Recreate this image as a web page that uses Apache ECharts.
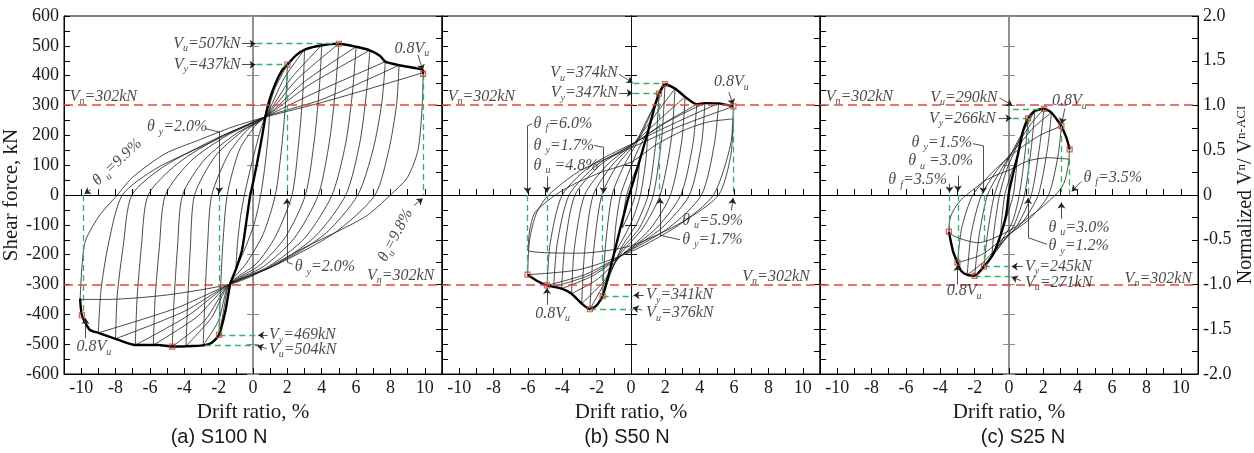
<!DOCTYPE html>
<html>
<head>
<meta charset="utf-8">
<script src="https://cdn.jsdelivr.net/npm/echarts@6/dist/echarts.min.js"></script>
<style>
  html, body { margin: 0; padding: 0; background: #fff; }
  #chart { width: 1254px; height: 453px; }
</style>
</head>
<body>
<div id="chart"></div>
<script>
// captions under the three panels
const panelNames = ['(a) S100 N', '(b) S50 N', '(c) S25 N'];
const nominalShear = 302; // V_n (ACI), kN

// ---- S100 N : envelope, loops, key points ----
const s100Envelope = [[-10.06,-347],[-9.96,-403],[-9.5,-452],[-9.0,-462],[-8.0,-482],[-6.85,-503],[-5.5,-503],[-4.7,-508],[-3.5,-506],[-2.8,-503],[-2.4,-495],[-1.98,-469],[-1.6,-387],[-1.32,-297],[-1.0,-250],[-0.64,-185],[-0.35,-74],[-0.16,0],[0.0,40],[0.23,105],[0.52,194],[0.72,261],[0.95,317],[1.3,373],[1.69,418],[2.0,437],[2.5,468],[3.05,488],[4.0,502],[5.0,507],[6.0,497],[6.8,485],[7.4,466],[7.7,447],[8.5,435],[9.5,425],[9.9,418],[9.9,406]];
const s100Loops = [
  [[1.0,320],[0.9,210],[0.7,100],[0.45,0],[0.1,-90],[-0.4,-170],[-1.0,-250],[-0.9,-160],[-0.72,-70],[-0.5,0],[-0.1,100],[0.4,210],[1.0,320]],
  [[2.0,437],[1.9,310],[1.65,150],[1.3,0],[0.6,-130],[-0.4,-230],[-1.4,-300],[-1.75,-400],[-1.98,-469],[-1.9,-330],[-1.75,-160],[-1.5,0],[-0.8,150],[0.1,230],[0.7,265],[1.3,360],[2.0,437]],
  [[3.0,488],[2.9,340],[2.65,170],[2.27,0],[1.3,-140],[0.2,-230],[-1.4,-300],[-2.0,-420],[-2.9,-504],[-2.8,-350],[-2.65,-175],[-2.4,0],[-1.4,140],[-0.3,220],[0.7,262],[1.8,390],[3.0,488]],
  [[4.0,502],[3.85,350],[3.55,175],[3.05,0],[1.9,-140],[0.4,-235],[-1.4,-300],[-2.4,-410],[-3.9,-506],[-3.8,-355],[-3.65,-180],[-3.4,0],[-2.2,130],[-0.6,215],[0.7,262],[2.2,390],[4.0,502]],
  [[5.0,507],[4.8,355],[4.45,180],[3.8,0],[2.4,-145],[0.6,-240],[-1.4,-300],[-2.8,-420],[-4.7,-508],[-4.6,-360],[-4.4,-180],[-4.1,0],[-2.8,120],[-1.0,205],[0.7,262],[2.6,390],[5.0,507]],
  [[6.0,497],[5.8,350],[5.4,175],[4.6,0],[3.0,-145],[0.9,-240],[-1.4,-300],[-3.3,-410],[-5.8,-503],[-5.7,-350],[-5.45,-175],[-5.1,0],[-3.6,115],[-1.5,200],[0.7,262],[3.0,380],[6.0,497]],
  [[6.8,485],[6.6,340],[6.2,170],[5.4,0],[3.6,-140],[1.1,-240],[-1.4,-300],[-3.8,-405],[-6.85,-503],[-6.75,-350],[-6.5,-175],[-6.1,0],[-4.4,105],[-1.9,195],[0.7,262],[3.3,370],[6.8,485]],
  [[7.7,447],[7.5,310],[7.0,155],[6.1,0],[4.2,-130],[1.3,-235],[-1.4,-300],[-4.0,-390],[-8.0,-482],[-7.9,-335],[-7.55,-170],[-7.05,0],[-5.2,95],[-2.3,185],[0.7,262],[3.5,340],[7.7,447]],
  [[8.5,435],[8.35,300],[7.9,150],[7.1,0],[4.8,-125],[1.5,-230],[-1.4,-300],[-4.5,-380],[-9.0,-462],[-8.85,-320],[-8.4,-160],[-7.6,0],[-5.6,90],[-2.5,175],[0.7,262],[4.0,320],[8.5,435]],
  [[9.9,410],[9.85,300],[9.6,150],[9.0,60],[8.0,0],[6.5,-74],[2.7,-185],[0.0,-270],[-1.4,-300],[-5.0,-335],[-8.5,-350],[-10.06,-350],[-9.8,-163],[-9.0,-74],[-7.9,0],[-7.0,60],[-5.1,139],[-3.2,183],[-1.2,228],[0.7,261],[4.0,310],[7.0,360],[9.9,410]]
];
const s100Marks = [[2.0,437],[5.0,507],[9.9,406],[-1.98,-469],[-4.7,-508],[-9.96,-403]];
const s100Guides = [[0.2,507,5.0,507],[0.2,437,2.0,437],[2.0,437,2.0,0],[9.9,406,9.9,0],[-1.96,0,-1.96,-469],[-9.86,0,-9.86,-400],[-1.96,-469,0.3,-469],[-2.8,-504,0.3,-504]];
const s100Arrows = [[-0.65,507,0.15,507],[-0.65,437,0.15,437],[9.6,470,9.88,418],[-1.96,211,-1.96,6],[-9.45,18,-9.8,4],[1.98,-225,1.98,-12],[9.36,-35,9.88,-12],[0.85,-470,0.3,-470],[0.8,-515,0.25,-505],[-9.75,-480,-9.75,-412]];
const s100Leaders = [[-2.75,222,-1.96,211],[2.3,-232,1.98,-225]];
const s100Notes = [
  [-0.7,507,'{i|V}{s|u}{i|=507kN}','r'],
  [-0.7,437,'{i|V}{s|y}{i|=437kN}','r'],
  [-10.7,330,'{i|V}{s|n}{i|=302kN}','l'],
  [8.2,490,'{i|0.8V}{s|u}','l'],
  [-6.2,228,'{i|θ }{s|y}{i|=2.0%}','l'],
  [-7.9,110,'{i|θ }{s|u}{i|=9.9%}','c',43],
  [2.4,-241,'{i|θ }{s|y}{i|=2.0%}','l'],
  [6.6,-270,'{i|V}{s|n}{i|=302kN}','l'],
  [8.3,-135,'{i|θ}{s|u}{i|=9.8%}','c',62],
  [0.9,-470,'{i|V}{s|y}{i|=469kN}','l'],
  [0.9,-518,'{i|V}{s|u}{i|=504kN}','l'],
  [-10.3,-510,'{i|0.8V}{s|u}','l']
];

// ---- S50 N ----
const s50Envelope = [[-6.02,-267],[-5.4,-290],[-4.89,-303],[-4.04,-314],[-3.46,-331],[-2.87,-364],[-2.39,-383],[-2.0,-370],[-1.65,-339],[-1.2,-245],[-0.7,-130],[-0.25,-29],[0.0,20],[0.5,115],[1.0,215],[1.4,300],[1.63,340],[1.98,372],[2.56,357],[3.15,329],[3.83,304],[4.3,308],[5.1,307],[5.96,297]];
const s50Loops = [
  [[0.5,110],[0.4,50],[0.25,0],[-0.1,-60],[-0.5,-110],[-0.4,-50],[-0.25,0],[0.1,60],[0.5,110]],
  [[1.0,215],[0.85,110],[0.55,0],[0.1,-80],[-0.4,-140],[-1.0,-200],[-0.9,-110],[-0.6,0],[-0.1,80],[0.4,150],[1.0,215]],
  [[1.63,340],[1.45,180],[1.0,0],[0.3,-100],[-0.5,-170],[-1.1,-250],[-1.65,-339],[-1.5,-180],[-1.1,0],[-0.4,100],[0.3,170],[0.9,240],[1.63,340]],
  [[1.98,372],[1.8,200],[1.3,0],[0.5,-110],[-0.5,-180],[-1.4,-280],[-2.39,-383],[-2.2,-200],[-1.7,0],[-0.8,100],[0.2,170],[1.0,260],[1.98,372]],
  [[2.56,357],[2.35,190],[1.7,0],[0.7,-110],[-0.5,-190],[-1.6,-290],[-2.87,-364],[-2.7,-190],[-2.2,0],[-1.1,100],[0.2,175],[1.3,260],[2.56,357]],
  [[3.15,329],[2.95,180],[2.3,0],[1.1,-115],[-0.5,-200],[-1.9,-280],[-3.46,-331],[-3.3,-180],[-2.7,0],[-1.4,100],[0.2,175],[1.6,250],[3.15,329]],
  [[3.83,304],[3.6,170],[2.9,0],[1.5,-110],[-0.5,-200],[-2.2,-270],[-4.04,-314],[-3.85,-170],[-3.26,0],[-1.8,100],[0.1,170],[1.9,240],[3.83,304]],
  [[4.3,308],[4.1,170],[3.4,0],[1.8,-110],[-0.5,-200],[-2.4,-268],[-4.5,-308],[-4.3,-165],[-3.6,0],[-2.0,100],[0.1,170],[2.1,245],[4.3,308]],
  [[5.1,307],[4.85,170],[4.1,0],[2.2,-110],[-0.5,-200],[-2.6,-265],[-4.89,-303],[-4.7,-160],[-4.0,0],[-2.3,100],[0.0,170],[2.5,240],[5.1,307]],
  [[5.96,297],[5.8,170],[4.8,0],[2.8,-100],[0.0,-190],[-3.0,-250],[-6.02,-267],[-5.9,-150],[-5.5,-60],[-4.8,0],[-3.0,80],[-0.3,150],[2.8,230],[5.96,297]],
  [[5.96,255],[5.8,130],[5.1,0],[3.0,-90],[0.0,-170],[-3.0,-195],[-6.0,-185],[-5.9,-120],[-5.6,-60],[-4.4,0],[-3.26,38],[-1.7,77],[0.0,110],[1.5,170],[3.0,215],[4.5,245],[5.96,255]]
];
const s50Marks = [[1.63,340],[1.98,372],[5.96,297],[-1.65,-339],[-2.39,-383],[-4.89,-303],[-6.02,-267]];
const s50Guides = [[0.14,373,1.98,373],[0.14,340,1.63,340],[1.63,340,1.63,0],[5.96,297,5.96,0],[-6.02,0,-6.02,-267],[-4.89,0,-4.89,-303],[-1.65,0,-1.65,-339],[-1.65,-339,0.14,-339],[-2.39,-383,0.14,-383]];
const s50Arrows = [[-0.7,405,0.1,376],[-0.7,342,0.1,342],[5.7,345,5.94,302],[-6.02,232,-6.02,6],[-1.6,160,-1.6,6],[-4.9,62,-4.9,8],[5.85,-52,5.94,-10],[1.69,-135,1.69,-10],[0.75,-336,0.15,-336],[0.65,-386,0.1,-378],[-4.89,-368,-4.89,-312]];
const s50Leaders = [[-5.75,239,-6.02,232],[-2.15,166,-1.6,160],[2.85,-150,1.69,-135]];
const s50Notes = [
  [-0.75,409,'{i|V}{s|u}{i|=374kN}','r'],
  [-0.75,342,'{i|V}{s|y}{i|=347kN}','r'],
  [4.8,379,'{i|0.8V}{s|u}','l'],
  [-10.7,330,'{i|V}{s|n}{i|=302kN}','l'],
  [-5.7,239,'{i|θ }{s|f}{i|=6.0%}','l'],
  [-5.7,166,'{i|θ }{s|y}{i|=1.7%}','l'],
  [-5.7,99,'{i|θ }{s|u}{i| =4.8%}','l'],
  [2.95,-85,'{i|θ }{s|u}{i|=5.9%}','l'],
  [2.95,-150,'{i|θ }{s|y}{i|=1.7%}','l'],
  [6.45,-273,'{i|V}{s|n}{i|=302kN}','l'],
  [0.85,-336,'{i|V}{s|y}{i|=341kN}','l'],
  [0.85,-396,'{i|V}{s|u}{i|=376kN}','l'],
  [-5.6,-398,'{i|0.8V}{s|u}','l']
];

// ---- S25 N ----
const s25Envelope = [[-3.5,-123],[-3.26,-188],[-3.0,-227],[-2.78,-255],[-2.43,-268],[-2.0,-271],[-1.46,-240],[-0.93,-199],[-0.54,-143],[-0.16,-65],[0.0,10],[0.23,69],[0.52,136],[0.82,215],[1.11,257],[1.5,282],[2.04,289],[2.47,276],[2.85,248],[3.05,231],[3.34,192],[3.53,153]];
const s25Loops = [
  [[0.5,130],[0.4,70],[0.25,0],[0.0,-50],[-0.5,-135],[-0.4,-70],[-0.25,0],[0.0,50],[0.5,130]],
  [[1.11,257],[0.95,150],[0.6,0],[0.2,-90],[-0.4,-150],[-1.0,-205],[-0.85,-110],[-0.55,0],[-0.1,90],[0.5,170],[1.11,257]],
  [[1.5,282],[1.3,160],[0.9,0],[0.3,-100],[-0.5,-170],[-1.46,-240],[-1.25,-130],[-0.85,0],[-0.2,100],[0.6,190],[1.5,282]],
  [[2.04,289],[1.8,170],[1.3,0],[0.5,-100],[-0.4,-160],[-1.2,-220],[-2.0,-271],[-1.75,-140],[-1.25,0],[-0.4,90],[0.6,180],[1.3,240],[2.04,289]],
  [[2.47,276],[2.25,160],[1.7,0],[0.8,-90],[-0.3,-150],[-1.4,-220],[-2.43,-268],[-2.2,-130],[-1.6,0],[-0.6,90],[0.6,170],[1.5,230],[2.47,276]],
  [[3.05,231],[2.85,130],[2.3,0],[1.2,-80],[-0.2,-140],[-1.6,-200],[-3.0,-227],[-2.75,-110],[-2.1,0],[-0.9,80],[0.5,150],[1.8,200],[3.05,231]],
  [[3.53,153],[3.45,100],[3.2,40],[2.7,0],[1.5,-60],[0.0,-120],[-1.8,-160],[-3.5,-123],[-3.46,-87],[-3.26,-54],[-2.78,-15],[-2.19,13],[-1.42,47],[-0.64,69],[0.0,83],[1.1,114],[2.27,125],[3.53,120]]
];
const s25Marks = [[1.11,257],[2.04,289],[3.05,231],[3.53,153],[-1.46,-240],[-2.0,-271],[-3.0,-227],[-3.5,-123]];
const s25Guides = [[0.23,287,2.04,287],[0.23,257,1.11,257],[1.11,257,1.11,0],[3.05,231,3.05,0],[3.53,153,3.53,0],[-3.46,0,-3.46,-123],[-2.97,0,-2.97,-227],[-1.46,0,-1.46,-240],[-1.46,-240,0.2,-240],[-2.0,-271,0.2,-271]];
const s25Arrows = [[-0.55,325,0.2,300],[-0.6,257,0.15,257],[3.25,290,3.06,238],[-1.5,165,-1.5,6],[-2.97,65,-2.97,12],[-3.46,38,-3.46,8],[4.2,45,3.65,12],[3.05,-80,3.05,-25],[1.11,-143,1.11,-10],[0.8,-240,0.15,-240],[0.7,-287,0.15,-275],[-3.0,-300,-3.0,-235]];
const s25Leaders = [[-2.1,172,-1.5,165],[2.2,-165,1.11,-143]];
const s25Notes = [
  [-0.64,326,'{i|V}{s|u}{i|=290kN}','r'],
  [-0.74,256,'{i|V}{s|y}{i|=266kN}','r'],
  [2.47,315,'{i|0.8V}{s|u}','l'],
  [-10.7,330,'{i|V}{s|n}{i|=302kN}','l'],
  [-5.7,175,'{i|θ }{s|y}{i|=1.5%}','l'],
  [-5.9,114,'{i|θ }{s|u}{i| =3.0%}','l'],
  [-7.05,50,'{i|θ }{s|f}{i|=3.5%}','l'],
  [4.3,58,'{i|θ }{s|f}{i|=3.5%}','l'],
  [2.27,-110,'{i|θ }{s|u}{i|=3.0%}','l'],
  [2.27,-171,'{i|θ }{s|y}{i|=1.2%}','l'],
  [0.9,-240,'{i|V}{s|y}{i|=245kN}','l'],
  [0.9,-294,'{i|V}{s|u}{i|=271kN}','l'],
  [-3.65,-322,'{i|0.8V}{s|u}','l'],
  [6.7,-280,'{i|V}{s|n}{i|=302kN}','l']
];

const serif = '"Liberation Serif", "Times New Roman", serif';
const ink = '#1a1a1a';

const panels = [
  {env: s100Envelope, loops: s100Loops, marks: s100Marks, guides: s100Guides, arrows: s100Arrows, leaders: s100Leaders, notes: s100Notes, left: 64, mid: 219, axisColor: '#8c8c8c', axisWidth: 1.6},
  {env: s50Envelope, loops: s50Loops, marks: s50Marks, guides: s50Guides, arrows: s50Arrows, leaders: s50Leaders, notes: s50Notes, left: 442, mid: 627, axisColor: '#111', axisWidth: 1},
  {env: s25Envelope, loops: s25Loops, marks: s25Marks, guides: s25Guides, arrows: s25Arrows, leaders: s25Leaders, notes: s25Notes, left: 820, mid: 1023, axisColor: '#8c8c8c', axisWidth: 1.6}
];

function noteRich(size) {
  return {
    i: {fontFamily: serif, fontStyle: 'italic', fontSize: size, lineHeight: size, verticalAlign: 'top', color: ink},
    s: {fontFamily: serif, fontStyle: 'italic', fontSize: 10, lineHeight: 10, padding: [8, 0, 0, 0], verticalAlign: 'top', color: ink}
  };
}

function segs(list) {
  return list.map(s => [{coord: [s[0], s[1]]}, {coord: [s[2], s[3]]}]);
}

const option = {
  animation: false,
  backgroundColor: '#fff',
  grid: [], xAxis: [], yAxis: [], series: [], graphic: []
};

panels.forEach(function (p, k) {
  const xi = 2 * k, yi = 4 * k;
  option.grid.push({left: p.left, top: 16, width: 378, height: 358, show: true, borderColor: '#000', borderWidth: 1, outerBoundsMode: 'none'});

  // bottom drift axis + the one through zero force
  option.xAxis.push({
    gridIndex: k, type: 'value', min: -11, max: 11, interval: 1, position: 'bottom',
    axisLine: {onZero: false, lineStyle: {color: '#000', width: 1}},
    axisTick: {inside: true, length: 6, lineStyle: {color: '#000'}},
    axisLabel: {formatter: v => (Math.round(v) % 2 === 0 ? String(Math.round(v)) : ''), fontFamily: serif, fontSize: 18, color: ink, margin: 5},
    splitLine: {show: false},
    name: 'Drift ratio, %', nameLocation: 'middle', nameGap: 24,
    nameTextStyle: {fontFamily: serif, fontSize: 21, color: ink}
  });
  option.xAxis.push({
    gridIndex: k, type: 'value', min: -11, max: 11, interval: 1, position: 'bottom',
    axisLine: {onZero: true, onZeroAxisIndex: yi, lineStyle: {color: '#000', width: 1}},
    axisTick: {inside: true, length: 6, lineStyle: {color: '#000'}},
    axisLabel: {show: false}, splitLine: {show: false}
  });

  const leftAxis = {
    gridIndex: k, type: 'value', min: -600, max: 600, interval: 50, position: 'left',
    axisLine: {onZero: false, lineStyle: {color: '#000'}},
    axisTick: {inside: true, length: 6, lineStyle: {color: '#000'}},
    axisLabel: {show: k === 0, formatter: v => (v % 100 === 0 ? String(v) : ''), fontFamily: serif, fontSize: 18, color: ink, margin: 5},
    splitLine: {show: false}
  };
  if (k === 0) {
    leftAxis.name = 'Shear force, kN';
    leftAxis.nameLocation = 'middle';
    leftAxis.nameGap = 40;
    leftAxis.nameRotate = 90;
    leftAxis.nameTextStyle = {fontFamily: serif, fontSize: 21, color: ink};
  }
  const rightAxis = {
    gridIndex: k, type: 'value', min: -2, max: 2, interval: 0.25, position: 'right',
    axisLine: {onZero: false, lineStyle: {color: '#000'}},
    axisTick: {inside: true, length: 6, lineStyle: {color: '#000'}},
    axisLabel: {show: k === 2, formatter: v => (Math.abs(v * 2 - Math.round(v * 2)) < 1e-9 ? (v === 0 ? '0' : v.toFixed(1)) : ''), fontFamily: serif, fontSize: 18, color: ink, margin: 5},
    splitLine: {show: false}
  };
  if (k === 2) {
    rightAxis.name = '{m|Normalized V}{s|n}{m|/ V}{s|n-ACI}';
    rightAxis.nameLocation = 'middle';
    rightAxis.nameGap = 31;
    rightAxis.nameRotate = 90;
    rightAxis.nameTextStyle = {
      fontFamily: serif, fontSize: 20, color: ink,
      rich: {
        m: {fontFamily: serif, fontSize: 20, lineHeight: 20, verticalAlign: 'top', color: ink},
        s: {fontFamily: serif, fontSize: 13, lineHeight: 13, verticalAlign: 'top', color: ink}
      }
    };
  }
  option.yAxis.push(leftAxis, rightAxis);
  [true, false].forEach(function (inside) {
    option.yAxis.push({
      gridIndex: k, type: 'value', min: -600, max: 600, interval: 100, position: 'left',
      axisLine: {onZero: true, onZeroAxisIndex: xi, lineStyle: {color: p.axisColor, width: p.axisWidth}},
      axisTick: {inside: inside, length: 6, lineStyle: {color: p.axisColor, width: 1}},
      axisLabel: {show: false}, splitLine: {show: false}
    });
  });

  p.loops.forEach(function (loop) {
    option.series.push({
      type: 'line', xAxisIndex: xi, yAxisIndex: yi, data: loop, symbol: 'none', showSymbol: false,
      smooth: 0.25, silent: true, lineStyle: {color: '#1c1c1c', width: 0.8}, z: 2
    });
  });
  option.series.push({
    type: 'line', xAxisIndex: xi, yAxisIndex: yi, data: p.env, symbol: 'none', showSymbol: false,
    smooth: 0.2, silent: true, lineStyle: {color: '#000', width: 2.4}, z: 3
  });

  // red V_n lines and green guides
  option.series.push({
    type: 'line', xAxisIndex: xi, yAxisIndex: yi, data: [[0, 0]], symbol: 'none', lineStyle: {opacity: 0}, silent: true, z: 4,
    markLine: {
      silent: true, symbol: 'none', animation: false, label: {show: false},
      lineStyle: {color: '#e04848', type: [9, 5], width: 1.6},
      data: [{yAxis: nominalShear}, {yAxis: -nominalShear}]
    }
  });
  option.series.push({
    type: 'line', xAxisIndex: xi, yAxisIndex: yi, data: [[0, 0]], symbol: 'none', lineStyle: {opacity: 0}, silent: true, z: 4,
    markLine: {
      silent: true, symbol: 'none', animation: false, label: {show: false},
      lineStyle: {color: '#34b06a', type: [6, 4], width: 1.3},
      data: segs(p.guides)
    }
  });
  option.series.push({
    type: 'line', xAxisIndex: xi, yAxisIndex: yi, data: [[0, 0]], symbol: 'none', lineStyle: {opacity: 0}, silent: true, z: 5,
    markLine: {
      silent: true, symbol: ['none', 'arrow'], symbolSize: 6, animation: false, label: {show: false},
      lineStyle: {color: '#222', type: 'solid', width: 0.8},
      data: segs(p.arrows)
    }
  });
  option.series.push({
    type: 'line', xAxisIndex: xi, yAxisIndex: yi, data: [[0, 0]], symbol: 'none', lineStyle: {opacity: 0}, silent: true, z: 5,
    markLine: {
      silent: true, symbol: 'none', animation: false, label: {show: false},
      lineStyle: {color: '#222', type: 'solid', width: 0.8},
      data: segs(p.leaders)
    }
  });

  option.series.push({
    type: 'scatter', xAxisIndex: xi, yAxisIndex: yi, data: p.marks, symbol: 'rect', symbolSize: 5, silent: true, z: 6,
    itemStyle: {color: 'rgba(255,255,255,0)', borderColor: '#c8372d', borderWidth: 1.2}
  });

  option.series.push({
    type: 'scatter', xAxisIndex: xi, yAxisIndex: yi, symbolSize: 1, silent: true, z: 7,
    itemStyle: {color: 'rgba(0,0,0,0)'},
    data: p.notes.map(n => ({
      value: [n[0], n[1]],
      label: {
        show: true,
        formatter: n[2],
        position: n[3] === 'r' ? 'left' : (n[3] === 'l' ? 'right' : 'inside'),
        distance: 0,
        rotate: n[4] || 0,
        rich: noteRich(16)
      }
    }))
  });

  option.graphic.push({
    type: 'text', x: p.mid, y: 437, silent: true,
    style: {text: panelNames[k], font: '20px "Liberation Sans", Arial, sans-serif', fill: ink, align: 'center', verticalAlign: 'middle'}
  });
});

const chart = echarts.init(document.getElementById('chart'));
chart.setOption(option);
</script>
</body>
</html>
